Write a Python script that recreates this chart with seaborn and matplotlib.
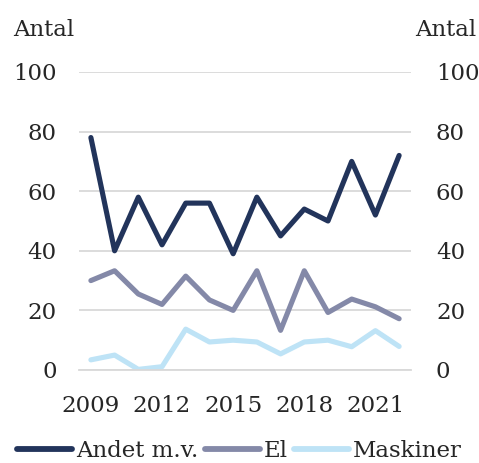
import pandas as pd
import numpy as np
import matplotlib.pyplot as plt
import seaborn as sns

years = list(range(2009, 2023))
andet = [78, 40, 58, 42, 56, 56, 39, 58, 45, 54, 50, 70, 52, 72]
el = [30, 33.3, 25.5, 22, 31.5, 23.5, 20, 33.3, 13.3, 33.3, 19.3, 23.8, 21.2, 17.2]
maskiner = [3.4, 5, 0.2, 1.1, 13.7, 9.4, 10, 9.4, 5.4, 9.4, 10, 7.8, 13.2, 7.9]
series = ['Andet m.v.', 'El', 'Maskiner']
colors = ['#22345B', '#8489A8', '#BEE3F6']
yticks = [0, 20, 40, 60, 80, 100]
xticks = [2009, 2012, 2015, 2018, 2021]

df = pd.DataFrame({'year': years * 3,
                   'value': andet + el + maskiner,
                   'serie': [s for s in series for _ in years]})

sns.set_style('white')
plt.rcParams['font.family'] = ['DejaVu Serif']
fs = 16.5

fig = plt.figure(figsize=(4.79, 4.63), dpi=100)
ax = fig.add_axes([0.165, 0.2009, 0.693, 0.6436])
sns.lineplot(data=df, x='year', y='value', hue='serie', palette=colors,
             linewidth=3.7, ax=ax, legend=True)

ax.set_ylim(0, 100)
ax.set_xlim(2008.5, 2022.5)
ax.set_yticks(yticks)
ax.set_xticks(xticks)
ax.set_xticks(np.arange(2008.5, 2023, 1), minor=True)
ax.grid(axis='y', color='#D9D9D9', linewidth=1.3)
ax.set_axisbelow(True)
for s in ['top', 'right', 'left']:
    ax.spines[s].set_visible(False)
ax.spines['bottom'].set_color('#D9D9D9')
ax.spines['bottom'].set_linewidth(1.3)
ax.tick_params(axis='x', which='major', length=0, pad=18, labelsize=fs)
ax.tick_params(axis='x', which='minor', length=6, width=1.3, color='#D9D9D9', direction='out')
ax.tick_params(axis='y', length=0, pad=16, labelsize=fs)
ax.set_xlabel('')
ax.set_ylabel('')

ax2 = ax.twinx()
ax2.set_ylim(0, 100)
ax2.set_yticks(yticks)
ax2.tick_params(axis='y', length=0, pad=18, labelsize=fs)
for s in ax2.spines.values():
    s.set_visible(False)

fig.text(0.027, 0.935, 'Antal', fontsize=fs, va='center', ha='left')
fig.text(0.866, 0.935, 'Antal', fontsize=fs, va='center', ha='left')

h, l = ax.get_legend_handles_labels()
for hh in h:
    hh.set_linewidth(4.2)
ax.legend(h, l, loc='center', bbox_to_anchor=(0.5, 0.025), bbox_transform=fig.transFigure,
          ncol=3, frameon=False, fontsize=fs, handlelength=2.4, handletextpad=0.15,
          columnspacing=0.3, borderaxespad=0, borderpad=0)

fig.savefig('out.png', dpi=100)
